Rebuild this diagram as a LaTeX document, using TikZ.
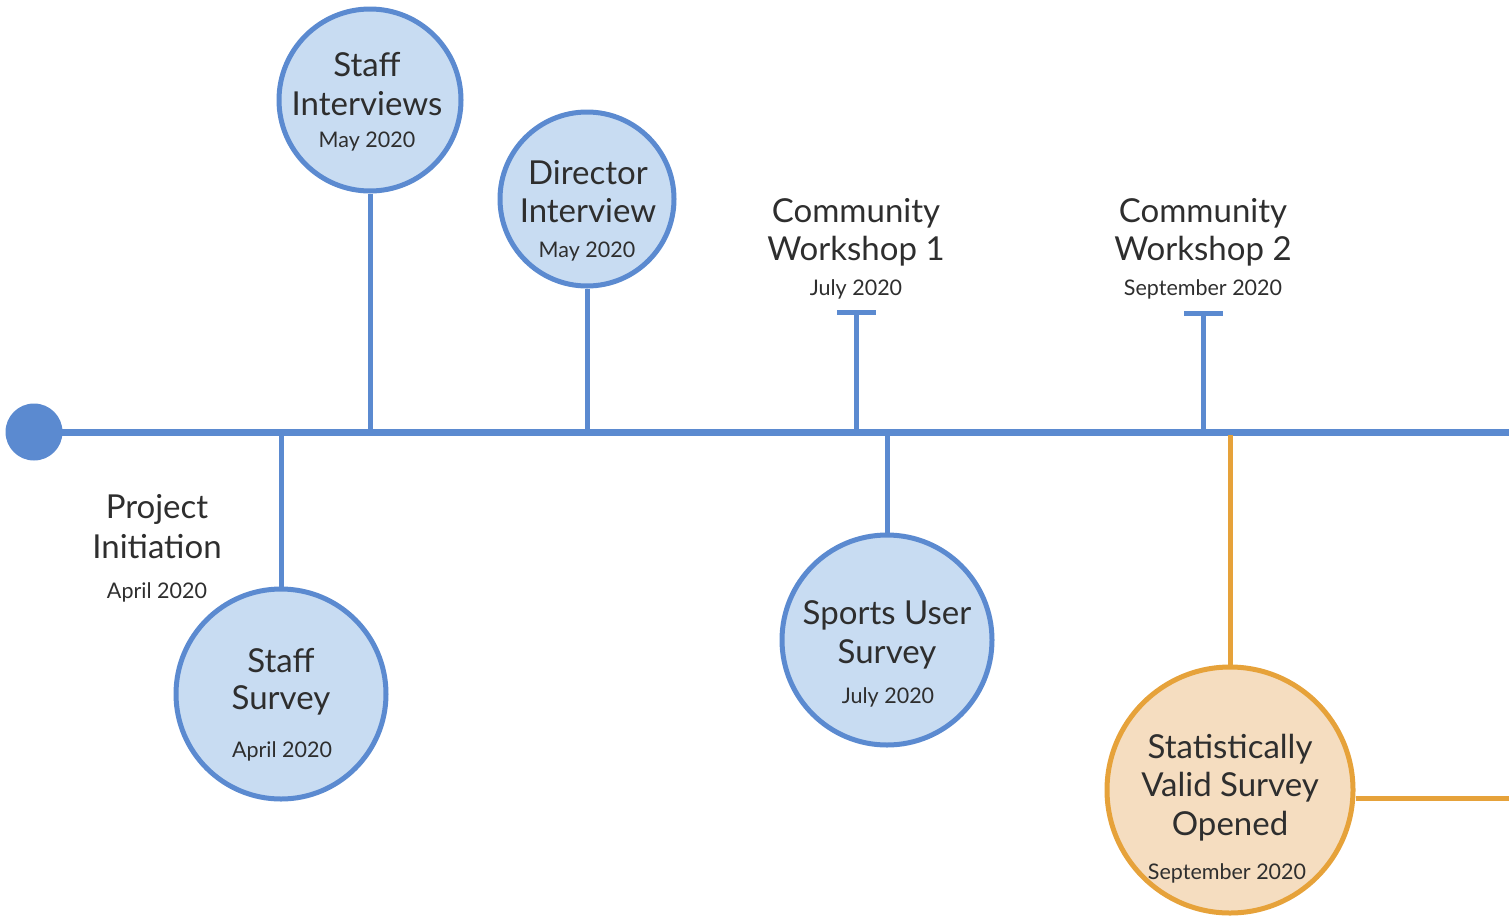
\documentclass[tikz,border=0pt]{standalone}
\usepackage{fontspec}
\setmainfont{Lato}
\definecolor{bstroke}{HTML}{5B8AD0}
\definecolor{bfill}{HTML}{C8DCF2}
\definecolor{ostroke}{HTML}{E6A23A}
\definecolor{ofill}{HTML}{F5DDC0}
\definecolor{txt}{HTML}{2E2E2E}
\begin{document}
\begin{tikzpicture}[x=1pt,y=-1pt,
  bub/.style={circle,draw=bstroke,fill=bfill,line width=5pt,inner sep=0pt,minimum size=#1},
  obub/.style={circle,draw=ostroke,fill=ofill,line width=5pt,inner sep=0pt,minimum size=#1},
  big/.style={text=txt,font=\fontsize{33}{39}\selectfont,align=center,inner sep=0pt,anchor=center},
  small/.style={text=txt,font=\fontsize{21.5}{24}\selectfont,inner sep=0pt,anchor=center},
  bline/.style={draw=bstroke,line width=5pt},
  oline/.style={draw=ostroke,line width=5pt}]
\useasboundingbox (0,0) rectangle (1509,916);
% timeline
\node[circle,fill=bstroke,inner sep=0pt,minimum size=57pt] (dot) at (34,432) {};
\coordinate (tend) at (1509,432);
\draw[draw=bstroke,line width=7pt] (dot.center) -- (tend);
% anchors on timeline
\coordinate (t1) at (370,432);
\coordinate (t2) at (587,432);
\coordinate (t3) at (856,432);
\coordinate (t4) at (1203,432);
\coordinate (t5) at (281,432);
\coordinate (t6) at (887,432);
\coordinate (t7) at (1230,435);
% Staff Interviews
\node[bub=182pt] (si) at (370,100) {};
\draw[bline] (si.south) -- (t1);
\node[big] (si1) at (367,65) {Staff};
\node[big] (si2) at (367,104) {Interviews};
\node[small] (si3) at (367,142) {May 2020};
% Director Interview
\node[bub=174pt] (di) at (587,199) {};
\draw[bline] (di.south) -- (t2);
\node[big] (di1) at (588,173) {Director};
\node[big] (di2) at (588,211) {Interview};
\node[small] (di3) at (587,252) {May 2020};
% Community Workshop 1
\node[big] (cw1a) at (856,213) {Community};
\node[big] (cw1b) at (856,251) {Workshop 1};
\node[small] (cw1c) at (856,289) {July 2020};
\coordinate (cw1l) at (837,312);
\coordinate (cw1r) at (876,312);
\coordinate (cw1m) at (856,312);
\draw[bline] (cw1l) -- (cw1r);
\draw[bline] (cw1m) -- (t3);
% Community Workshop 2
\node[big] (cw2a) at (1203,213) {Community};
\node[big] (cw2b) at (1203,251) {Workshop 2};
\node[small] (cw2c) at (1203,289) {September 2020};
\coordinate (cw2l) at (1184,313);
\coordinate (cw2r) at (1223,313);
\coordinate (cw2m) at (1203,313);
\draw[bline] (cw2l) -- (cw2r);
\draw[bline] (cw2m) -- (t4);
% Project Initiation
\node[big] (pi1) at (157,509) {Project};
\node[big] (pi2) at (157,547) {Initiation};
\node[small] (pi3) at (157,592) {April 2020};
% Staff Survey
\node[bub=210pt] (ss) at (281,694) {};
\draw[bline] (ss.north) -- (t5);
\node[big] (ss1) at (281,661) {Staff};
\node[big] (ss2) at (281,700) {Survey};
\node[small] (ss3) at (282,751) {April 2020};
% Sports User Survey
\node[bub=210pt] (su) at (887,640) {};
\draw[bline] (su.north) -- (t6);
\node[big] (su1) at (887,615) {Sports User};
\node[big] (su2) at (887,654) {Survey};
\node[small] (su3) at (888,697) {July 2020};
% Statistically Valid Survey Opened
\node[obub=246pt] (sv) at (1230,790) {};
\coordinate (svend) at (1509,798);
\draw[oline] (sv.north) -- (t7);
\draw[oline] (sv.east |- svend) -- (svend);
\node[big] (sv1) at (1230,749) {Statistically};
\node[big] (sv2) at (1230,787) {Valid Survey};
\node[big] (sv3) at (1230,826) {Opened};
\node[small] (sv4) at (1227,873) {September 2020};
\end{tikzpicture}
\end{document}
